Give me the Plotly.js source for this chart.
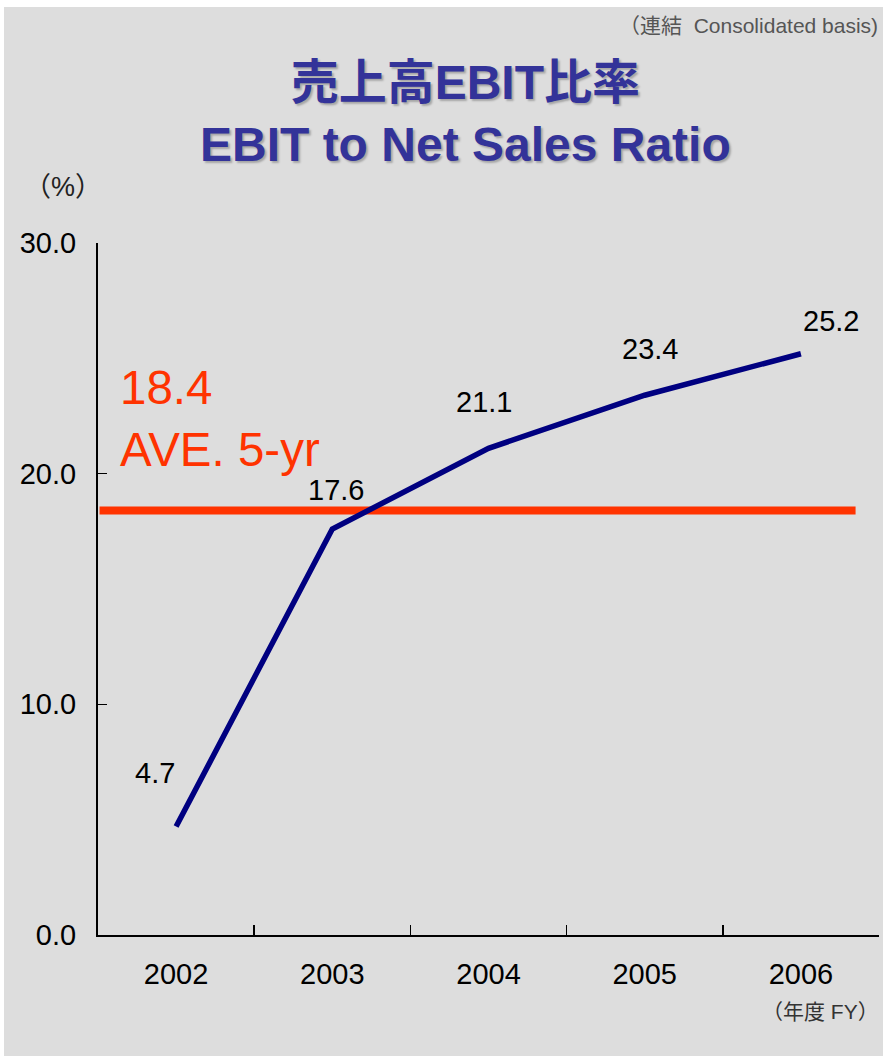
<!DOCTYPE html>
<html>
<head>
<meta charset="utf-8">
<script src="https://cdn.plot.ly/plotly-3.0.1.min.js"></script>
<style>html,body{margin:0;padding:0;background:#fff;}#chart{width:883px;height:1056px;}</style>
</head>
<body>
<div id="chart"></div>
<script>
const years = ["2002", "2003", "2004", "2005", "2006"];
const ratio = [4.7, 17.6, 21.1, 23.4, 25.2];
const average = 18.4;
const yTicks = [0, 10, 20, 30];
const labelShiftX = [-21, 4, -5, 5, 30];
const labelShiftY = [54, 39, 46, 46, 33];

const FONT = "Liberation Sans, Arial, 'Noto Sans CJK JP', sans-serif";

const traces = [{
  type: "scatter",
  mode: "lines",
  x: years,
  y: ratio,
  line: {color: "#000080", width: 5.5},
  hoverinfo: "skip",
  showlegend: false
}];

const annotations = years.map((yr, i) => ({
  x: i, y: ratio[i], xref: "x", yref: "y",
  text: ratio[i].toFixed(1),
  showarrow: false,
  xshift: labelShiftX[i], yshift: labelShiftY[i],
  font: {family: FONT, size: 29, color: "#000"}
}));

annotations.push({
  xref: "paper", yref: "paper", x: 0.0256, y: 0.746,
  xanchor: "left", yanchor: "middle", align: "left",
  text: average.toFixed(1) + "<br>AVE. 5-yr",
  showarrow: false,
  font: {family: FONT, size: 47.5, color: "#ff3300"}
});
annotations.push({
  xref: "paper", yref: "paper", x: 1.0013, y: 1.3136,
  xanchor: "right", yanchor: "middle",
  text: "（連結  Consolidated basis)", showarrow: false,
  font: {family: FONT, size: 21, color: "#555"}
});
annotations.push({
  xref: "paper", yref: "paper", x: -0.0448, y: 1.081,
  xanchor: "center", yanchor: "middle",
  text: "（%）", showarrow: false,
  font: {family: FONT, size: 27, color: "#222"}
});
annotations.push({
  xref: "paper", yref: "paper", x: 1.003, y: -0.111,
  xanchor: "right", yanchor: "middle",
  text: "（年度 FY）", showarrow: false,
  font: {family: FONT, size: 21, color: "#333"}
});

const layout = {
  width: 883, height: 1056,
  margin: {l: 98, r: 4, t: 243, b: 121},
  paper_bgcolor: "#ffffff",
  plot_bgcolor: "rgba(0,0,0,0)",
  title: {
    text: "<b>売上高EBIT比率<br>EBIT to Net Sales Ratio</b>",
    x: 0.527, xanchor: "center", y: 1 - 99/1056, yanchor: "middle",
    font: {family: FONT, size: 48, color: "#333399", shadow: "2px 2px 2px rgba(0,0,0,0.25)"}
  },
  xaxis: {
    type: "category",
    range: [-0.5, 4.5],
    tickson: "boundaries",
    ticks: "inside", ticklen: 10, tickwidth: 1.5, tickcolor: "#000",
    showline: true, linecolor: "#000", linewidth: 2,
    showgrid: false, zeroline: false,
    ticklabelstandoff: 12,
    tickfont: {family: FONT, size: 29, color: "#000"},
    fixedrange: true
  },
  yaxis: {
    range: [0, 30],
    tickvals: yTicks,
    ticktext: yTicks.map(v => v.toFixed(1)),
    ticks: "inside", ticklen: 9, tickwidth: 1.5, tickcolor: "#000",
    showline: true, linecolor: "#000", linewidth: 2,
    showgrid: false, zeroline: false,
    ticklabelstandoff: 14,
    tickfont: {family: FONT, size: 29, color: "#000"},
    fixedrange: true
  },
  shapes: [
    {type: "rect", xref: "paper", yref: "paper", layer: "below",
     x0: -94/781, x1: 1.01, y0: -0.2, y1: (935-7)/692,
     fillcolor: "#dddddd", line: {width: 0}},
    {type: "line", xref: "x", yref: "y", layer: "below",
     x0: -0.49, x1: 4.35, y0: average, y1: average,
     line: {color: "#ff3300", width: 8}}
  ],
  annotations: annotations,
  showlegend: false
};

Plotly.newPlot("chart", traces, layout, {displayModeBar: false, staticPlot: true});
</script>
</body>
</html>
